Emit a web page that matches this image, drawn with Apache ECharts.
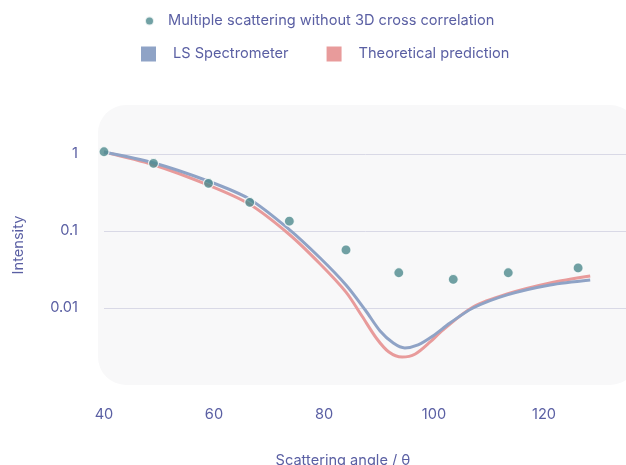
<!DOCTYPE html>
<html>
<head>
<meta charset="utf-8">
<script src="https://cdn.jsdelivr.net/npm/echarts@6/dist/echarts.min.js"></script>
<style>
  html, body { margin: 0; padding: 0; background: #ffffff; }
  #chart { width: 626px; height: 465px; }
</style>
</head>
<body>
<div id="chart"></div>
<script>
// Measured points: multiple scattering without 3D cross correlation
const scatterAngles = [40, 49, 59, 66.5, 73.7, 84, 93.6, 103.5, 113.5, 126.2];
const scatterIntensity = [1.07, 0.757, 0.416, 0.236, 0.134, 0.0567, 0.0287, 0.0236, 0.0287, 0.0331];

// LS Spectrometer curve
const lsAngles = [40, 49.1, 58.9, 66.4, 73.6, 79.3, 84.0, 87.5, 90.2, 92.6, 94.7, 97.1, 99.8, 102.9, 107.1, 113.3, 121.1, 128.4];
const lsIntensity = [1.06, 0.764, 0.446, 0.261, 0.106, 0.0446, 0.0199, 0.00942, 0.00503, 0.00351, 0.00303, 0.00331, 0.00433, 0.00638, 0.0100, 0.0148, 0.0199, 0.0231];

// Theoretical prediction curve
const theoryAngles = [40, 49.1, 58.9, 66.4, 73.6, 79.3, 84.0, 86.9, 89.5, 91.8, 94.2, 96.6, 99.3, 101.6, 107.1, 113.3, 121.1, 128.4];
const theoryIntensity = [1.06, 0.72, 0.396, 0.224, 0.0914, 0.0373, 0.0161, 0.00787, 0.00408, 0.00268, 0.00231, 0.00253, 0.00362, 0.00518, 0.0103, 0.0152, 0.0211, 0.026];

// Axis ticks
const xTicks = [40, 60, 80, 100, 120];
const yTickLabels = { '1': '1', '0.1': '0.1', '0.01': '0.01' };

const zip = (xs, ys) => xs.map((x, i) => [x, ys[i]]);

const textColor = '#5a5fa3';
const fontFamily = 'Inter, "Noto Sans", sans-serif';
const legendFont = { color: textColor, fontSize: 14.6, fontFamily: fontFamily, lineHeight: 16 };

const chart = echarts.init(document.getElementById('chart'), null, { renderer: 'canvas' });

chart.setOption({
  animation: false,
  backgroundColor: '#ffffff',
  textStyle: { fontFamily: fontFamily },
  graphic: [{
    type: 'rect',
    z: -10,
    silent: true,
    shape: { x: 98, y: 105, width: 540, height: 280, r: 28 },
    style: { fill: '#f8f8f9' }
  }],
  legend: [{
    data: ['Multiple scattering without 3D cross correlation'],
    left: 144,
    top: 13,
    padding: 0,
    icon: 'circle',
    itemWidth: 9,
    itemHeight: 9,
    textStyle: Object.assign({ padding: [0, 0, 0, 9] }, legendFont)
  }, {
    data: ['LS Spectrometer', 'Theoretical prediction'],
    left: 141,
    top: 46,
    padding: 0,
    icon: 'rect',
    itemWidth: 15,
    itemHeight: 15,
    itemGap: 38,
    textStyle: Object.assign({ padding: [0, 0, 0, 12] }, legendFont)
  }],
  grid: { left: 104, right: -28, top: 77, bottom: 80, containLabel: false, outerBoundsMode: 'none' },
  xAxis: {
    type: 'value',
    min: 40,
    max: 140,
    interval: 20,
    name: 'Scattering angle / θ',
    nameLocation: 'middle',
    nameGap: 68,
    nameTextStyle: { color: textColor, fontSize: 14.6, fontFamily: fontFamily, padding: [0, 72, 0, 0] },
    axisLine: { show: false },
    axisTick: { show: false },
    splitLine: { show: false },
    axisLabel: {
      color: textColor, fontSize: 14.6, fontFamily: fontFamily, margin: 22,
      showMaxLabel: false,
      formatter: v => (xTicks.indexOf(v) >= 0 ? String(v) : '')
    }
  },
  yAxis: {
    type: 'log',
    logBase: 10,
    min: 0.001,
    max: 10,
    name: 'Intensity',
    nameLocation: 'middle',
    nameGap: 78,
    nameTextStyle: { color: textColor, fontSize: 14.6, fontFamily: fontFamily, padding: [0, 28, 0, 0] },
    axisLine: { show: false },
    axisTick: { show: false },
    axisLabel: {
      color: textColor, fontSize: 14.6, fontFamily: fontFamily, margin: 26,
      showMinLabel: false,
      showMaxLabel: false,
      formatter: v => {
        const key = String(+v.toPrecision(3));
        return yTickLabels[key] || '';
      }
    },
    splitLine: {
      show: true,
      showMinLine: false,
      showMaxLine: false,
      lineStyle: { color: '#d9d9e6', width: 1 }
    }
  },
  series: [{
    name: 'Theoretical prediction',
    type: 'line',
    data: zip(theoryAngles, theoryIntensity),
    smooth: 0.3,
    showSymbol: false,
    symbol: 'none',
    z: 2,
    lineStyle: { color: '#e89b9b', width: 3 },
    itemStyle: { color: '#e89b9b' }
  }, {
    name: 'LS Spectrometer',
    type: 'line',
    data: zip(lsAngles, lsIntensity),
    smooth: 0.3,
    showSymbol: false,
    symbol: 'none',
    z: 3,
    lineStyle: { color: '#8fa3c6', width: 3 },
    itemStyle: { color: '#8fa3c6' }
  }, {
    name: 'Multiple scattering without 3D cross correlation',
    type: 'scatter',
    data: zip(scatterAngles, scatterIntensity),
    symbol: 'circle',
    symbolSize: 10,
    z: 5,
    itemStyle: { color: '#4e8a8d', borderColor: '#ffffff', borderWidth: 1.2 }
  }]
});
</script>
</body>
</html>
